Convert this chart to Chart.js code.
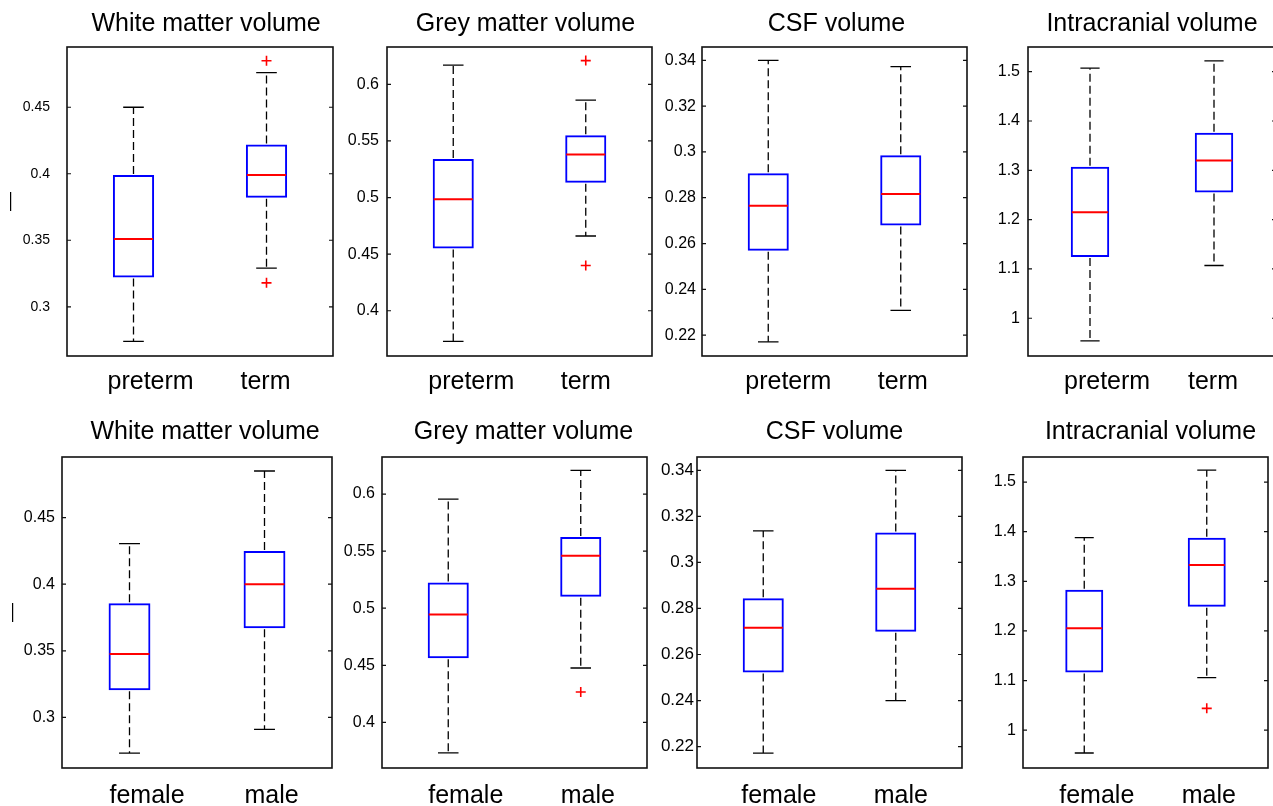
<!DOCTYPE html>
<html>
<head>
<meta charset="utf-8">
<title>Brain volume box plots</title>
<script src="https://cdn.jsdelivr.net/npm/chart.js@4"></script>
<style>
    html, body { margin: 0; padding: 0; background: #fff; }
    #page { position: relative; width: 1273px; height: 806px; overflow: hidden; background: #fff; }
    #page canvas { position: absolute; }
</style>
</head>
<body>
<div id="page"></div>
<script>
// --- Data ---

const birthGroups = ['preterm', 'term'];
const sexGroups = ['female', 'male'];
const panelTitles = ['White matter volume', 'Grey matter volume', 'CSF volume', 'Intracranial volume'];

// each group: [lower whisker, Q1, median, Q3, upper whisker]
const wmBirth  = [[0.274, 0.322, 0.351, 0.399, 0.450], [0.329, 0.382, 0.399, 0.422, 0.476]];
const gmBirth  = [[0.373, 0.455, 0.4985, 0.534, 0.617], [0.466, 0.513, 0.538, 0.555, 0.586]];
const csfBirth = [[0.2171, 0.2568, 0.2765, 0.2907, 0.340], [0.2308, 0.2679, 0.2816, 0.2985, 0.3372]];
const icvBirth = [[0.954, 1.124, 1.215, 1.307, 1.507], [1.107, 1.255, 1.320, 1.376, 1.522]];

const wmSex  = [[0.2732, 0.3203, 0.3475, 0.3857, 0.4305], [0.291, 0.367, 0.400, 0.425, 0.485]];
const gmSex  = [[0.3733, 0.4561, 0.4945, 0.5225, 0.5956], [0.4476, 0.510, 0.5459, 0.5625, 0.6207]];
const csfSex = [[0.2172, 0.2522, 0.2716, 0.2844, 0.3137], [0.240, 0.2699, 0.2886, 0.313, 0.340]];
const icvSex = [[0.954, 1.116, 1.2055, 1.283, 1.388], [1.106, 1.2485, 1.333, 1.388, 1.524]];

// outliers per group (red +)
const wmBirthOut  = [[], [0.485, 0.318]];
const gmBirthOut  = [[], [0.621, 0.440]];
const csfBirthOut = [[], []];
const icvBirthOut = [[], []];
const wmSexOut  = [[], []];
const gmSexOut  = [[], [0.4266]];
const csfSexOut = [[], []];
const icvSexOut = [[], [1.044]];

// y axis limits and tick steps
const yLimitsBirth = [[0.263, 0.4953], [0.360, 0.633], [0.2109, 0.3458], [0.9235, 1.550]];
const yLimitsSex   = [[0.262, 0.4955], [0.360, 0.6325], [0.2107, 0.3458], [0.9238, 1.5505]];
const yTickSteps   = [0.05, 0.05, 0.02, 0.1];

// --- Layout (page pixels) ---

const AXIS_W = 70;
const plotLeft   = [[67, 387, 702, 1028], [62, 382, 697, 1023]];
const plotWidth  = [[266, 265, 265, 248], [270, 265, 265, 245]];
const titleShift = [[6, 6, 2, 0], [8, 9, 5, 5]];
const tickGap    = [[17, 8, 6, 8], [7, 7, 3, 7]];
const labelShift = [[-26, -25, -23, -26], [-20, -20, -22, -25]];
const tickSizes  = [[14, 16, 16, 16], [16, 16, 17, 16]];

const rows = [
    { groups: birthGroups, stats: [wmBirth, gmBirth, csfBirth, icvBirth],
      outliers: [wmBirthOut, gmBirthOut, csfBirthOut, icvBirthOut], limits: yLimitsBirth,
      top: 0, height: 400, titlePad: { top: 9, bottom: 8 }, axisH: 44, labelPad: 11, dashPad: 1.6 },
    { groups: sexGroups, stats: [wmSex, gmSex, csfSex, icvSex],
      outliers: [wmSexOut, gmSexOut, csfSexOut, icvSexOut], limits: yLimitsSex,
      top: 400, height: 406, titlePad: { top: 17, bottom: 10 }, axisH: 38, labelPad: 13.5, dashPad: 8.6 }
];

const FONT = "'Liberation Sans', Arial, sans-serif";

// --- Plugins ---

// whiskers, caps and median lines, placed with the chart's own scales
const boxWhiskers = {
    id: 'boxWhiskers',
    afterDatasetsDraw(chart, args, opts) {
        const y = chart.scales.y;
        const bars = chart.getDatasetMeta(0).data;
        const ctx = chart.ctx;
        ctx.save();
        opts.stats.forEach((s, i) => {
            const bar = bars[i];
            if (!bar) return;
            const cx = bar.x;
            const half = bar.width / 2;
            const cap = bar.width / 4;
            const [lo, q1, med, q3, hi] = s.map(v => y.getPixelForValue(v));

            ctx.strokeStyle = '#000';
            ctx.lineWidth = 1.3;
            ctx.setLineDash([8, 4]);
            ctx.beginPath();
            ctx.moveTo(cx, q3 - 1);
            ctx.lineTo(cx, hi);
            ctx.moveTo(cx, q1 + 1);
            ctx.lineTo(cx, lo);
            ctx.stroke();

            ctx.setLineDash([]);
            ctx.beginPath();
            ctx.moveTo(cx - cap, hi);
            ctx.lineTo(cx + cap, hi);
            ctx.moveTo(cx - cap, lo);
            ctx.lineTo(cx + cap, lo);
            ctx.stroke();

            ctx.strokeStyle = '#ff0000';
            ctx.lineWidth = 2;
            ctx.beginPath();
            ctx.moveTo(cx - half + 1, med);
            ctx.lineTo(cx + half - 1, med);
            ctx.stroke();
        });
        ctx.restore();
    }
};

// MATLAB-style box around the axes with inward ticks on both sides
const axesFrame = {
    id: 'axesFrame',
    afterDraw(chart) {
        const { ctx, chartArea: a, scales: { y } } = chart;
        ctx.save();
        ctx.strokeStyle = '#111';
        ctx.lineWidth = 1.6;
        ctx.strokeRect(a.left, a.top, a.right - a.left, a.bottom - a.top);
        ctx.lineWidth = 1.2;
        ctx.beginPath();
        y.ticks.forEach(t => {
            const py = y.getPixelForValue(t.value);
            ctx.moveTo(a.left, py);
            ctx.lineTo(a.left + 4, py);
            ctx.moveTo(a.right - 4, py);
            ctx.lineTo(a.right, py);
        });
        ctx.stroke();
        ctx.restore();
    }
};

// --- Build the eight panels ---

const page = document.getElementById('page');

rows.forEach((row, r) => {
    for (let p = 0; p < 4; p++) {
        const rightW = AXIS_W + 2 * titleShift[r][p];
        const width = AXIS_W + plotWidth[r][p] + rightW;

        const canvas = document.createElement('canvas');
        canvas.width = width;
        canvas.height = row.height;
        canvas.style.left = (plotLeft[r][p] - AXIS_W) + 'px';
        canvas.style.top = row.top + 'px';
        canvas.style.width = width + 'px';
        canvas.style.height = row.height + 'px';
        page.appendChild(canvas);

        const stats = row.stats[p];
        const outPoints = [];
        row.outliers[p].forEach((vals, i) => {
            vals.forEach(v => outPoints.push({ x: row.groups[i], y: v }));
        });

        const [yMin, yMax] = row.limits[p];

        new Chart(canvas.getContext('2d'), {
            type: 'bar',
            data: {
                labels: row.groups,
                datasets: [{
                    label: 'IQR',
                    data: stats.map(s => [s[1], s[3]]),
                    backgroundColor: 'rgba(0,0,0,0)',
                    borderColor: '#0000ff',
                    borderWidth: 2,
                    borderSkipped: false,
                    barPercentage: 0.31,
                    categoryPercentage: 1
                }, {
                    type: 'line',
                    label: 'Outliers',
                    data: outPoints,
                    showLine: false,
                    pointStyle: 'cross',
                    pointRadius: 5,
                    pointBorderColor: '#ff0000',
                    pointBorderWidth: 1.6,
                    borderColor: '#ff0000'
                }]
            },
            options: {
                responsive: false,
                animation: false,
                events: [],
                layout: { padding: 0 },
                scales: {
                    x: {
                        type: 'category',
                        offset: true,
                        grid: { display: false, drawTicks: false },
                        border: { display: false },
                        ticks: {
                            color: '#000',
                            font: { family: FONT, size: 25 },
                            align: 'start',
                            labelOffset: labelShift[r][p],
                            padding: row.labelPad,
                            maxRotation: 0,
                            autoSkip: false
                        },
                        afterFit: s => { s.height = row.axisH; }
                    },
                    y: {
                        type: 'linear',
                        min: yMin,
                        max: yMax,
                        grid: { display: false, drawTicks: false },
                        border: { display: false },
                        title: {
                            display: p === 0,
                            text: '—',
                            color: '#000',
                            font: { family: FONT, size: 19 },
                            padding: { top: row.dashPad, bottom: 0 }
                        },
                        ticks: {
                            stepSize: yTickSteps[p],
                            includeBounds: false,
                            color: '#000',
                            font: { family: FONT, size: tickSizes[r][p] },
                            padding: tickGap[r][p],
                            callback: v => String(+v.toFixed(4))
                        },
                        afterFit: s => { s.width = AXIS_W; }
                    },
                    y2: {
                        position: 'right',
                        grid: { display: false, drawTicks: false },
                        border: { display: false },
                        ticks: { display: false },
                        afterFit: s => { s.width = rightW; }
                    }
                },
                plugins: {
                    legend: { display: false },
                    tooltip: { enabled: false },
                    title: {
                        display: true,
                        text: panelTitles[p],
                        color: '#000',
                        font: { family: FONT, size: 25, weight: 'normal' },
                        padding: row.titlePad
                    },
                    boxWhiskers: { stats }
                }
            },
            plugins: [boxWhiskers, axesFrame]
        });
    }
});
</script>
</body>
</html>
